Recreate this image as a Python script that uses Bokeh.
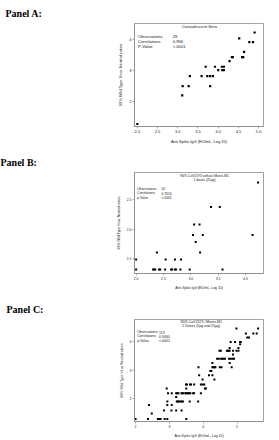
from bokeh.plotting import figure
from bokeh.layouts import column
from bokeh.models import FixedTicker, PrintfTickFormatter, Range1d, Label
from bokeh.embed import file_html
from bokeh.resources import INLINE

# ---------------- data ----------------
panel_names = ["Panel A:", "Panel B:", "Panel C:"]
x_label = "Anti-Spike IgG (EU/mL, Log 10)"
y_label = "99% Wild Type Virus Neutralization"

a_title = ["Convalescent Sera"]
a_stats = [("Observations", "29"), ("Correlations", "0.956"), ("P-Value", "<.0001")]
a_x = [2.0, 3.11, 3.12, 3.27, 3.80, 3.30, 3.59, 3.73, 3.80, 3.87, 3.69, 3.92, 4.09, 4.14,
       4.0, 4.10, 4.14, 4.28, 4.34, 4.36, 4.52, 4.59, 4.62, 4.64, 4.77, 4.86, 4.90]
a_y = [1.27, 2.19, 2.49, 2.49, 2.49, 2.81, 2.81, 2.81, 2.81, 2.81, 3.11, 3.11, 3.11, 3.11,
       3.0, 3.0, 3.0, 3.29, 3.42, 3.42, 4.02, 3.42, 3.42, 3.59, 3.90, 3.90, 4.21]
a_xticks = [2.0, 2.5, 3.0, 3.5, 4.0, 4.5, 5.0]
a_yticks = [2, 3, 4]

b_title = ["NVX-CoV2373 without Matrix-M1", "2 doses (25\u00b5g)"]
b_stats = [("Observations", "50"), ("Correlations", "0.7616"), ("p-Value", "<.0001")]
b_x = [4.23, 3.37, 3.53, 3.06, 3.16, 3.04, 3.22, 4.13, 3.09, 3.17, 2.38, 2.0, 2.54, 2.71, 2.82,
       2.0, 2.31, 2.33, 2.35, 2.42, 2.44, 2.53, 2.64, 2.66, 2.71, 2.73, 2.81, 2.98, 3.58]
b_y = [2.80, 2.38, 2.38, 2.08, 2.08, 1.90, 1.90, 1.90, 1.78, 1.60, 1.60, 1.48, 1.48, 1.48, 1.48,
       1.31, 1.31, 1.31, 1.31, 1.31, 1.31, 1.31, 1.31, 1.31, 1.31, 1.31, 1.31, 1.31, 1.31]
b_xticks = [2.0, 2.5, 3.0, 3.5, 4.0]
b_yticks = [1.5, 2.0, 2.5]

c_title = ["NVX-CoV2373 / Matrix-M1", "2 Doses (5\u00b5g and 25\u00b5g)"]
c_stats = [("Observations", "113"), ("Correlations", "0.9460"), ("p-Value", "<.0001")]
c_x = [4.98, 5.62,
       5.26, 5.48, 5.58,
       5.30, 5.35,
       4.81, 4.94, 5.09, 5.11,
       5.09,
       4.78, 5.04,
       4.48, 4.52, 4.70, 4.72, 4.76, 4.78, 4.88, 4.98, 5.04,
       4.88,
       4.41, 4.46, 4.53, 4.56, 4.60, 4.64, 4.76, 4.81, 4.86, 4.91,
       4.27, 4.78,
       3.86, 4.27, 4.30, 4.33, 4.36, 4.49, 4.54, 4.84,
       4.21, 4.24,
       3.88, 4.17, 4.27,
       3.98, 4.33,
       3.49, 3.52, 3.61, 3.64, 3.73, 3.93, 3.98, 4.03,
       2.92, 3.50, 4.05, 4.08,
       2.96, 3.07, 3.20, 3.23, 3.27, 3.36, 3.38, 3.41, 3.47, 3.50, 3.53, 3.56, 3.59, 3.62, 3.70, 3.73, 3.93,
       3.20,
       2.94, 3.22, 3.25, 3.27, 3.32, 3.36, 3.40, 3.60, 3.85,
       2.40, 2.94, 3.07,
       2.84, 3.06, 3.20, 3.36,
       2.48,
       2.00, 2.37, 2.66, 2.70, 2.74, 2.86, 2.94, 3.50]
c_y = [4.46, 4.46,
       4.29, 4.29, 4.29,
       4.15, 4.15,
       3.99, 3.99, 3.99, 3.99,
       3.91,
       3.78, 3.78,
       3.68, 3.68, 3.68, 3.68, 3.68, 3.68, 3.68, 3.68, 3.68,
       3.55,
       3.40, 3.40, 3.40, 3.40, 3.40, 3.40, 3.40, 3.40, 3.40, 3.40,
       3.25, 3.25,
       3.10, 3.10, 3.10, 3.10, 3.10, 3.10, 3.10, 3.10,
       2.97, 2.97,
       2.82, 2.82, 2.82,
       2.67, 2.67,
       2.50, 2.50, 2.50, 2.50, 2.50, 2.50, 2.50, 2.50,
       2.36, 2.36, 2.36, 2.36,
       2.19, 2.19, 2.19, 2.19, 2.19, 2.19, 2.19, 2.19, 2.19, 2.19, 2.19, 2.19, 2.19, 2.19, 2.19, 2.19, 2.19,
       2.06,
       1.90, 1.90, 1.90, 1.90, 1.90, 1.90, 1.90, 1.90, 1.90,
       1.78, 1.78, 1.78,
       1.59, 1.59, 1.59, 1.59,
       1.48,
       1.29, 1.29, 1.29, 1.29, 1.29, 1.29, 1.29, 1.29]
c_xticks = [2, 3, 4, 5]
c_yticks = [2, 3, 4]

SANS = "Liberation Sans"
GRAY = "#8a8a8a"
TXT = "#222222"


def make_panel(name, h, bl, br, bt, bb, xr, yr, xt, yt, xfmt, yfmt, xs, ys,
               title_lines, title_cx, title_y0, title_dy, stats, stats_x, vals_x,
               stats_y0, stats_dy, fs, tfs, msize):
    p = figure(width=279, height=h, x_range=Range1d(*xr), y_range=Range1d(*yr),
               output_backend="svg", toolbar_location=None,
               min_border_left=bl, min_border_right=br, min_border_top=bt, min_border_bottom=bb)
    fw = 279 - bl - br
    fh = h - bt - bb

    def dx(px):
        return xr[0] + (px - bl) / fw * (xr[1] - xr[0])

    def dy(py):
        return yr[1] - (py - bt) / fh * (yr[1] - yr[0])

    p.title.text = name
    p.title.text_font = "Liberation Serif"
    p.title.text_font_style = "bold"
    p.title.text_font_size = "10px"
    p.title.text_color = "black"
    p.title.align = "left"
    p.title.offset = -bl
    p.title.standoff = 9

    p.outline_line_color = GRAY
    p.outline_line_width = 0.8
    p.xgrid.visible = False
    p.ygrid.visible = False

    for ax, ticks, fmt in ((p.xaxis[0], xt, xfmt), (p.yaxis[0], yt, yfmt)):
        ax.ticker = FixedTicker(ticks=ticks, minor_ticks=[])
        ax.formatter = PrintfTickFormatter(format=fmt)
        ax.axis_line_color = GRAY
        ax.axis_line_width = 0.8
        ax.major_tick_line_color = GRAY
        ax.major_tick_line_width = 0.7
        ax.major_tick_out = 2
        ax.major_tick_in = 0
        ax.minor_tick_line_color = None
        ax.major_label_text_font = SANS
        ax.major_label_text_font_size = fs
        ax.major_label_text_color = TXT
        ax.major_label_standoff = 1
        ax.axis_label_text_font = SANS
        ax.axis_label_text_font_size = fs
        ax.axis_label_text_font_style = "normal"
        ax.axis_label_text_color = TXT
        ax.axis_label_standoff = 3
    p.xaxis[0].axis_label = x_label
    p.yaxis[0].axis_label = y_label

    p.scatter(xs, ys, marker="square", size=msize, color="black", line_width=0)

    for i, t in enumerate(title_lines):
        p.add_layout(Label(x=dx(title_cx), y=dy(title_y0 + i * title_dy), text=t,
                           text_font=SANS, text_font_size=tfs, text_color=TXT,
                           text_align="center", text_baseline="middle"))
    for i, (k, v) in enumerate(stats):
        yy = dy(stats_y0 + i * stats_dy)
        p.add_layout(Label(x=dx(stats_x), y=yy, text=k, text_font=SANS,
                           text_font_size=tfs, text_color=TXT,
                           text_align="left", text_baseline="middle"))
        p.add_layout(Label(x=dx(vals_x), y=yy, text=v, text_font=SANS,
                           text_font_size=tfs, text_color=TXT,
                           text_align="left", text_baseline="middle"))
    return p


pa = make_panel(panel_names[0], 147, 129, 13, 23, 21, (1.93, 5.12), (1.19, 4.5),
                a_xticks, a_yticks, "%.1f", "%d", a_x, a_y,
                a_title, 198, 26, 4.2, a_stats, 132.7, 169.5, 35.5, 5.2,
                "4px", "4.2px", 2.2)
pb = make_panel(panel_names[1], 145, 134, 16, 25, 19, (1.97, 4.33), (1.24, 2.97),
                b_xticks, b_yticks, "%.1f", "%.1f", b_x, b_y,
                b_title, 204, 28, 4.3, b_stats, 136.5, 161, 41.3, 4.4,
                "3.4px", "3.3px", 2.0)
pc = make_panel(panel_names[2], 148, 128, 4, 27, 15, (1.97, 5.78), (1.2, 4.78),
                c_xticks, c_yticks, "%d", "%d", c_x, c_y,
                c_title, 204, 29.7, 4.2, c_stats, 131, 156, 40.3, 4.3,
                "3.5px", "3.5px", 2.0)

layout = column(pa, pb, pc, spacing=0)
open("out.html", "w").write(file_html(layout, INLINE))
